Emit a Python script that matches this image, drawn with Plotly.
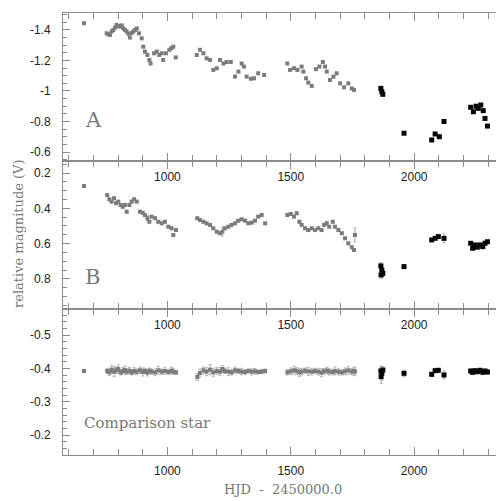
import plotly.graph_objects as go

# ---------------- data ----------------
# Panel A (variable, early epochs = grey, late epochs = black)
a_grey_x = [662, 754, 760, 767, 774, 781, 788, 794, 801, 808, 815, 821, 828, 835, 842, 848, 855, 862,
            869, 876, 885, 896, 902, 909, 919, 927, 932, 946, 957, 967, 977, 983, 994, 1008, 1016, 1024,
            1034, 1119, 1132, 1146, 1159, 1173, 1186, 1200, 1213, 1227, 1240, 1257, 1274, 1288, 1301,
            1310, 1321, 1338, 1351, 1368, 1392, 1486, 1497, 1513, 1527, 1544, 1551, 1562, 1571, 1585,
            1602, 1616, 1630, 1639, 1646, 1659, 1673, 1686, 1700, 1716, 1733, 1747, 1756]
a_grey_y = [-1.444, -1.378, -1.372, -1.367, -1.39, -1.40, -1.415, -1.433, -1.425, -1.422, -1.43, -1.41,
            -1.40, -1.39, -1.375, -1.35, -1.38, -1.39, -1.40, -1.41, -1.378, -1.345, -1.29, -1.258,
            -1.236, -1.203, -1.18, -1.247, -1.258, -1.236, -1.247, -1.203, -1.247, -1.27, -1.28, -1.29,
            -1.22, -1.236, -1.27, -1.247, -1.214, -1.203, -1.138, -1.149, -1.203, -1.18, -1.19, -1.19,
            -1.094, -1.127, -1.18, -1.16, -1.094, -1.08, -1.083, -1.116, -1.105, -1.18, -1.138, -1.149,
            -1.138, -1.16, -1.127, -1.083, -1.055, -1.033, -1.143, -1.16, -1.19, -1.16, -1.127, -1.072,
            -1.094, -1.116, -1.05, -1.024, -1.05, -1.017, -1.007]
a_black_x = [1865, 1869, 1873, 1959, 2071, 2085, 2102, 2121, 2229, 2240, 2251, 2260, 2270, 2280, 2287, 2297]
a_black_y = [-1.017, -0.995, -0.978, -0.723, -0.679, -0.718, -0.70, -0.80, -0.893, -0.864, -0.90, -0.886,
             -0.908, -0.871, -0.82, -0.77]

# Panel B
b_grey_x = [662, 756, 765, 774, 784, 792, 801, 811, 819, 828, 835, 846, 855, 865, 876, 889, 900, 909, 919,
            927, 936, 950, 963, 977, 990, 1004, 1017, 1024, 1035, 1121, 1132, 1146, 1159, 1173, 1186, 1200,
            1213, 1223, 1233, 1247, 1260, 1274, 1287, 1301, 1315, 1328, 1342, 1355, 1368, 1382, 1396,
            1486, 1500, 1513, 1524, 1535, 1544, 1558, 1571, 1585, 1598, 1612, 1625, 1635, 1646, 1656,
            1670, 1679, 1693, 1707, 1720, 1733, 1747, 1756, 1760]
b_grey_y = [0.274, 0.325, 0.349, 0.362, 0.343, 0.371, 0.362, 0.381, 0.391, 0.381, 0.419, 0.381, 0.362,
            0.349, 0.362, 0.419, 0.425, 0.438, 0.456, 0.476, 0.447, 0.456, 0.476, 0.485, 0.476, 0.504,
            0.513, 0.551, 0.523, 0.456, 0.466, 0.476, 0.485, 0.494, 0.513, 0.532, 0.541, 0.532, 0.513,
            0.504, 0.494, 0.485, 0.47, 0.462, 0.47, 0.485, 0.481, 0.47, 0.447, 0.438, 0.485, 0.438,
            0.432, 0.447, 0.428, 0.476, 0.494, 0.513, 0.523, 0.513, 0.523, 0.513, 0.523, 0.494, 0.485,
            0.504, 0.476, 0.504, 0.523, 0.541, 0.57, 0.598, 0.62, 0.636, 0.551]
b_grey_err = [0.008, 0.006, 0.006, 0.006, 0.006, 0.006, 0.006, 0.006, 0.006, 0.006, 0.006, 0.006, 0.006,
              0.006, 0.006, 0.006, 0.006, 0.006, 0.015, 0.006, 0.006, 0.006, 0.006, 0.006, 0.006, 0.006,
              0.006, 0.006, 0.006, 0.006, 0.006, 0.006, 0.006, 0.006, 0.006, 0.006, 0.006, 0.025, 0.006,
              0.006, 0.006, 0.006, 0.006, 0.006, 0.006, 0.006, 0.006, 0.006, 0.006, 0.006, 0.006, 0.006,
              0.006, 0.006, 0.006, 0.006, 0.006, 0.006, 0.006, 0.006, 0.006, 0.006, 0.006, 0.006, 0.012,
              0.006, 0.006, 0.006, 0.006, 0.006, 0.006, 0.006, 0.006, 0.006, 0.04]
b_black_x = [1865, 1866, 1869, 1873, 1959, 2071, 2085, 2098, 2121, 2229, 2237, 2247, 2256, 2267, 2278, 2287, 2297]
b_black_y = [0.726, 0.777, 0.749, 0.768, 0.73, 0.579, 0.57, 0.56, 0.57, 0.598, 0.626, 0.607, 0.62, 0.607,
             0.617, 0.598, 0.589]
b_black_err = [0.02, 0.02, 0.03, 0.02, 0.01, 0.006, 0.006, 0.006, 0.025, 0.006, 0.006, 0.006, 0.006, 0.006,
               0.006, 0.006, 0.006]

# Panel C (comparison star)
c_grey_x = b_grey_x
c_grey_y = [-0.392, -0.392, -0.388, -0.396, -0.39, -0.394, -0.398, -0.388, -0.392, -0.395, -0.39, -0.393,
            -0.388, -0.392, -0.39, -0.394, -0.389, -0.392, -0.387, -0.393, -0.39, -0.388, -0.394, -0.39,
            -0.392, -0.389, -0.393, -0.39, -0.388, -0.374, -0.386, -0.394, -0.39, -0.396, -0.388, -0.392,
            -0.39, -0.398, -0.392, -0.39, -0.388, -0.394, -0.392, -0.39, -0.389, -0.392, -0.39, -0.391,
            -0.389, -0.39, -0.392, -0.388, -0.391, -0.394, -0.392, -0.388, -0.39, -0.393, -0.391, -0.39,
            -0.392, -0.39, -0.387, -0.391, -0.393, -0.39, -0.389, -0.392, -0.39, -0.388, -0.391, -0.394,
            -0.39, -0.392, -0.39]
c_grey_err = [0.005, 0.008, 0.01, 0.012, 0.015, 0.01, 0.012, 0.008, 0.01, 0.012, 0.008, 0.01, 0.008,
              0.01, 0.008, 0.01, 0.012, 0.008, 0.01, 0.008, 0.008, 0.01, 0.012, 0.008, 0.01, 0.008, 0.01,
              0.008, 0.006, 0.01, 0.012, 0.01, 0.012, 0.015, 0.012, 0.01, 0.012, 0.01, 0.008, 0.012, 0.008,
              0.01, 0.008, 0.01, 0.008, 0.006, 0.01, 0.008, 0.006, 0.006, 0.006, 0.008, 0.01, 0.012, 0.01,
              0.012, 0.01, 0.008, 0.012, 0.01, 0.008, 0.01, 0.012, 0.008, 0.01, 0.01, 0.008, 0.012, 0.01,
              0.008, 0.01, 0.012, 0.01, 0.012, 0.012]
c_black_x = b_black_x
c_black_y = [-0.392, -0.375, -0.385, -0.395, -0.385, -0.382, -0.393, -0.394, -0.38, -0.392, -0.388,
             -0.393, -0.39, -0.394, -0.388, -0.392, -0.389]
c_black_err = [0.015, 0.02, 0.02, 0.01, 0.01, 0.006, 0.006, 0.006, 0.012, 0.006, 0.006, 0.006, 0.006, 0.006,
               0.006, 0.006, 0.006]

x_tickvals = [1000, 1500, 2000]
a_tickvals = [-1.4, -1.2, -1.0, -0.8, -0.6]
a_ticktext = ["-1.4", "-1.2", "-1", "-0.8", "-0.6"]
b_tickvals = [0.2, 0.4, 0.6, 0.8]
b_ticktext = ["0.2", "0.4", "0.6", "0.8"]
c_tickvals = [-0.5, -0.4, -0.3, -0.2]
c_ticktext = ["-0.5", "-0.4", "-0.3", "-0.2"]

# ---------------- figure ----------------
GREY = "#7b7b7b"
BLACK = "#050505"
ERRC = "#b0b0b0"
AXC = "#8c8c8c"

fig = go.Figure()


def add(xs, ys, err, color, ax, size):
    ysuffix = "" if ax == 1 else str(ax)
    fig.add_trace(go.Scatter(
        x=xs, y=ys, mode="markers",
        marker=dict(symbol="square", size=size, color=color, line=dict(width=0)),
        error_y=(dict(type="data", array=err, color=ERRC, thickness=1, width=1.5)
                 if err is not None else None),
        xaxis="x" + ysuffix, yaxis="y" + ysuffix, showlegend=False, hoverinfo="skip"))


add(a_grey_x, a_grey_y, None, GREY, 1, 4)
add(a_black_x, a_black_y, None, BLACK, 1, 5)
add(b_grey_x, b_grey_y, b_grey_err, GREY, 2, 4)
add(b_black_x, b_black_y, b_black_err, BLACK, 2, 5)
add(c_grey_x, c_grey_y, c_grey_err, GREY, 3, 4)
add(c_black_x, c_black_y, c_black_err, BLACK, 3, 5)

H_TOT = 442.0
dC = [0, 146 / H_TOT]
dB = [146 / H_TOT, 294 / H_TOT]
dA = [294 / H_TOT, 1]

tickfont = dict(family="Liberation Sans, Arial, sans-serif", size=12, color="#222222")


def xaxis(anchor):
    return dict(domain=[0, 1], anchor=anchor, range=[577, 2360], showgrid=False, zeroline=False,
                showline=True, linecolor=AXC, linewidth=1, mirror="allticks",
                ticks="inside", ticklen=8, tickcolor=AXC, tickwidth=1,
                tickvals=x_tickvals, ticktext=[str(v) for v in x_tickvals],
                tickfont=tickfont, ticklabelstandoff=5,
                minor=dict(ticks="inside", dtick=100, tick0=0, ticklen=6, tickcolor=AXC, tickwidth=1))


def yaxis(anchor, dom, rng, tv, tt, mdt):
    return dict(domain=dom, anchor=anchor, range=rng, showgrid=False, zeroline=False,
                showline=True, linecolor=AXC, linewidth=1, mirror="allticks",
                ticks="inside", ticklen=7, tickcolor=AXC, tickwidth=1,
                tickvals=tv, ticktext=tt, tickfont=tickfont, ticklabelstandoff=9,
                minor=dict(ticks="inside", dtick=mdt, tick0=0, ticklen=4, tickcolor=AXC, tickwidth=1))


# page body has an 8px default margin -> figure is 8px smaller and offset
fig.update_layout(
    width=496, height=493,
    margin=dict(l=55, r=1, t=5, b=46),
    paper_bgcolor="white", plot_bgcolor="white",
    xaxis=xaxis("y"), xaxis2=xaxis("y2"), xaxis3=xaxis("y3"),
    yaxis=yaxis("x", dA, [-0.541, -1.511], a_tickvals, a_ticktext, 0.05),
    yaxis2=yaxis("x2", dB, [0.97, 0.132], b_tickvals, b_ticktext, 0.05),
    yaxis3=yaxis("x3", dC, [-0.14, -0.578], c_tickvals, c_ticktext, 0.02),
)

serif = "DejaVu Serif, Liberation Serif, serif"
TXT = "#777777"


def px2paper(px, py):
    # px, py are page pixel positions of the reference
    return (px - 63) / 440.0, (455 - py) / H_TOT


ann = []
x, y = px2paper(83, 120)
ann.append(dict(x=x, y=y, text="A", font=dict(family=serif, size=21, color=TXT)))
x, y = px2paper(83, 277)
ann.append(dict(x=x, y=y, text="B", font=dict(family=serif, size=21, color=TXT)))
x, y = px2paper(82, 423)
ann.append(dict(x=x, y=y, text="Comparison star", font=dict(family=serif, size=15, color=TXT)))
for a in ann:
    a.update(xref="paper", yref="paper", xanchor="left", yanchor="middle", showarrow=False)

x, y = px2paper(283, 489)
ann.append(dict(x=x, y=y, xref="paper", yref="paper", xanchor="center", yanchor="middle",
                showarrow=False, text="HJD  -  2450000.0",
                font=dict(family=serif, size=13, color=TXT)))
x, y = px2paper(18, 234)
ann.append(dict(x=x, y=y, xref="paper", yref="paper", xanchor="center", yanchor="middle",
                showarrow=False, text="relative magnitude (V)", textangle=-90,
                font=dict(family=serif, size=13, color=TXT)))
fig.update_layout(annotations=ann)

fig.write_html("out.html")
